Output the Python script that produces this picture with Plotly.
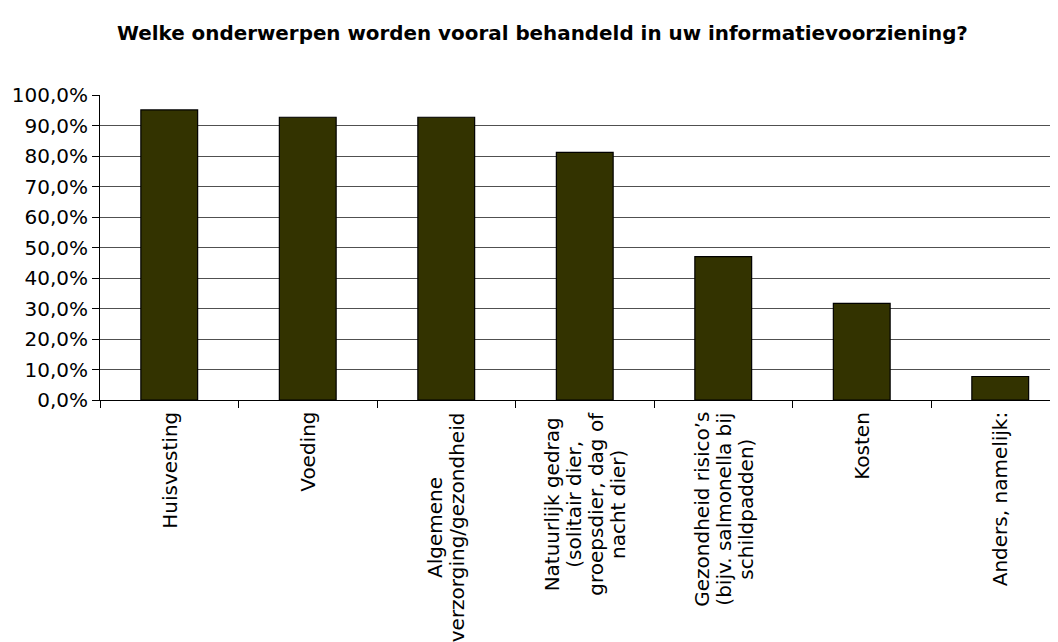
import plotly.graph_objects as go

categories = [
    "Huisvesting",
    "Voeding",
    "Algemene<br>verzorging/gezondheid",
    "Natuurlijk gedrag<br>(solitair dier,<br>groepsdier, dag of<br>nacht dier)",
    "Gezondheid risico’s<br>(bijv. salmonella bij<br>schildpadden)",
    "Kosten",
    "Anders, namelijk:",
]
values = [95.1, 92.7, 92.7, 81.2, 47.0, 31.7, 7.7]
y_ticks = [0, 10, 20, 30, 40, 50, 60, 70, 80, 90, 100]
y_labels = [f"{v},0%" for v in y_ticks]
title = "Welke onderwerpen worden vooral behandeld in uw informatievoorziening?"

idx = list(range(len(categories)))

# page body has an 8px margin; compensate so the plot lands where the reference has it
W, H = 1050, 634

fig = go.Figure()
fig.add_trace(go.Bar(
    x=idx, y=values, width=0.41,
    marker=dict(color="#333300", line=dict(color="#000000", width=1.2)),
    hoverinfo="skip",
))

for i, c in zip(idx, categories):
    txt = "<br>".join(f"<span style='font-size:20px'>{ln}</span>" for ln in c.split("<br>"))
    fig.add_annotation(
        x=i, y=0, xref="x", yref="y", text=txt, textangle=-90,
        showarrow=False, xanchor="center", yanchor="top", yshift=-10,
        align="center", font=dict(family="DejaVu Sans", size=17, color="#000000"),
    )

fig.update_layout(
    width=W, height=H,
    margin=dict(l=92, r=0, t=87, b=242, autoexpand=False),
    paper_bgcolor="white", plot_bgcolor="white",
    showlegend=False,
    title=dict(text=f"<b>{title}</b>", x=0.509, xanchor="center", y=0.96, yanchor="middle",
               font=dict(family="DejaVu Sans", size=19.9, color="#000000")),
)
fig.update_xaxes(
    range=[-0.5, 6.417], tickmode="array", tickvals=[i - 0.5 for i in idx] + [6.5],
    ticktext=[""] * (len(idx) + 1), ticks="outside", ticklen=7, tickcolor="#000000",
    showline=True, linecolor="#000000", linewidth=1, showgrid=False, zeroline=False,
)
fig.update_yaxes(
    range=[0, 100], tickmode="array", tickvals=y_ticks, ticktext=y_labels,
    ticks="outside", ticklen=7, tickcolor="#000000",
    showline=True, linecolor="#000000", linewidth=1,
    showgrid=True, gridcolor="#505050", gridwidth=1, zeroline=False,
    tickfont=dict(family="DejaVu Sans", size=20, color="#000000"),
)

fig.write_html("out.html")
